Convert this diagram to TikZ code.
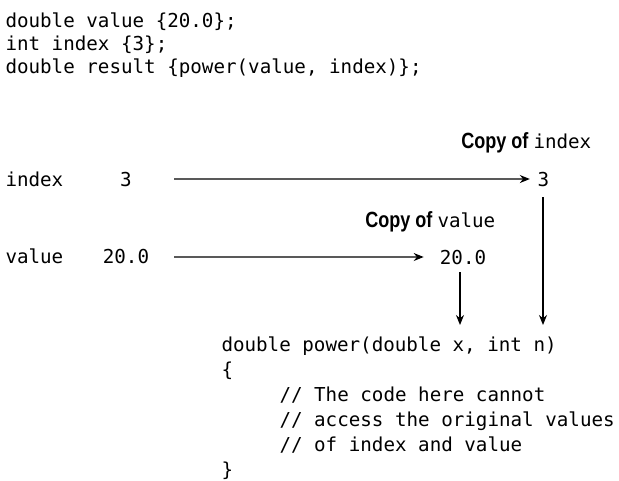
\documentclass[tikz,border=0pt]{standalone}
\usepackage{fontspec}
\setmonofont{DejaVu Sans Mono}
\newfontfamily\copyfont{Liberation Sans}[FakeStretch=0.82]
\usepackage{tikz}
\usetikzlibrary{arrows.meta,positioning}

\newcommand{\codesize}{\fontsize{19.2}{23}\selectfont}

\begin{document}
\begin{tikzpicture}[
    x=1pt, y=-1pt,
    code/.style={anchor=base west, inner sep=0pt, font=\codesize\ttfamily},
    val/.style={anchor=base, inner sep=0pt, font=\codesize\ttfamily},
    copylabel/.style={anchor=base east, inner sep=0pt, font=\fontsize{22}{26}\selectfont\copyfont\bfseries},
    arrow/.style={-{Stealth[length=10pt,width=8pt]}, line width=1.2pt}
]
\useasboundingbox (0,0) rectangle (619,480);

% Calling code
\node[code] (line1) at (5.3,27) {double value \{20.0\};};
\node[code] (line2) at (5.3,50) {int index \{3\};};
\node[code] (line3) at (5.3,73) {double result \{power(value, index)\};};

% Original variables
\node[code] (idxname) at (5.3,186) {index};
\node[val] (idxval) at (126,186) {3};
\node[code] (valname) at (5.3,263) {value};
\node[val] (valval) at (126,263) {20.0};

% Copies
\node[val] (idxcopy) at (543.5,186) {3};
\node[val] (valcopy) at (463,264) {20.0};
\node[copylabel] (idxlabel) at (591.5,148) {Copy of {\codesize\mdseries\ttfamily index}};
\node[copylabel] (vallabel) at (495.5,227) {Copy of {\codesize\mdseries\ttfamily value}};

% Function
\node[code] (power) at (221.3,351) {double power(double x, int n)};
\node[code] (open) at (221.3,376) {\{};
\node[code] (note1) at (279.3,401) {// The code here cannot};
\node[code] (note2) at (279.3,426) {// access the original values};
\node[code] (note3) at (279.3,451) {// of index and value};
\node[code] (close) at (221.3,476) {\}};

% Arrows
\coordinate (idxfrom) at (174,179);
\coordinate (valfrom) at (174,257);
\coordinate (xin) at (460,325);
\coordinate (nin) at (543,325);
\draw[arrow, shorten >=7.7pt] (idxfrom) -- (idxcopy);
\draw[arrow, shorten >=16pt] (valfrom) -- (valcopy);
\draw[arrow, shorten <=8pt] (valcopy.south -| xin) -- (xin);
\draw[arrow, shorten <=11pt] (idxcopy.south -| nin) -- (nin);

\end{tikzpicture}
\end{document}
